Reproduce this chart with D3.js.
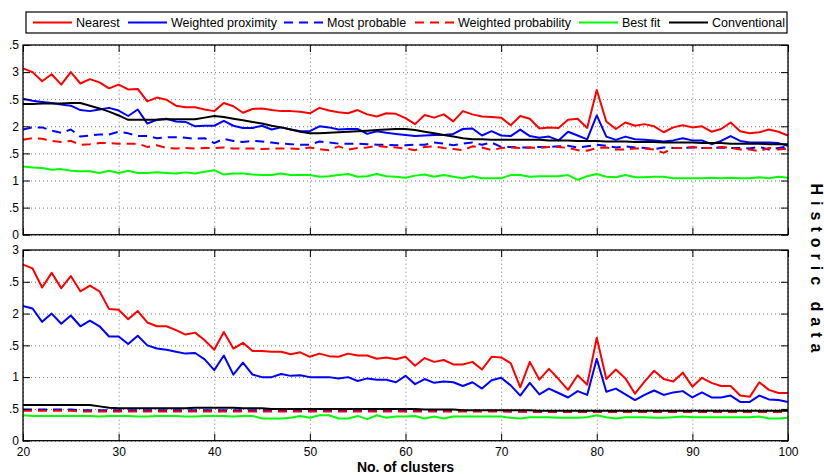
<!DOCTYPE html>
<html>
<head>
<meta charset="utf-8">
<script src="https://cdn.jsdelivr.net/npm/d3@7"></script>
<style>
  html, body { margin: 0; padding: 0; background: #fff; }
  svg { display: block; font-family: "Liberation Sans", Arial, Helvetica, sans-serif; }
</style>
</head>
<body>
<svg id="chart" width="824" height="475"></svg>
<script>
// ---------------- DATA ----------------
const clusters = d3.range(20, 101);           // No. of clusters: 20 .. 100
const xTicks = [20, 30, 40, 50, 60, 70, 80, 90, 100];
const xTickLabels = ["20", "30", "40", "50", "60", "70", "80", "90", "100"];

const topYTicks = [0, 0.5, 1, 1.5, 2, 2.5, 3, 3.5];
const topYTickLabels = ["0", ".5", "1", ".5", "2", ".5", "3", ".5"];
const botYTicks = [0, 0.5, 1, 1.5, 2, 2.5, 3];
const botYTickLabels = ["0", ".5", "1", ".5", "2", ".5", "3"];

const seriesNames = ["Nearest", "Weighted proximity", "Most probable",
                     "Weighted probability", "Best fit", "Conventional"];
const sideLabel = "Historic data";
const xLabel = "No. of clusters";

// ---- top panel ----
const nearestTop = [
  3.07, 3.00, 2.83, 2.96, 2.77, 3.00, 2.79, 2.87, 2.81, 2.70,
  2.77, 2.68, 2.69, 2.46, 2.53, 2.49, 2.38, 2.35, 2.35, 2.31,
  2.28, 2.43, 2.37, 2.25, 2.32, 2.33, 2.30, 2.28, 2.28, 2.27,
  2.24, 2.34, 2.29, 2.26, 2.24, 2.30, 2.22, 2.18, 2.24, 2.23,
  2.15, 2.04, 2.21, 2.16, 2.22, 2.09, 2.28, 2.22, 2.18, 2.17,
  2.16, 2.02, 2.19, 2.14, 1.96, 1.98, 1.97, 2.12, 2.14, 1.97,
  2.67, 2.09, 1.95, 2.07, 2.01, 2.04, 2.00, 1.89, 1.98, 2.02,
  1.98, 2.00, 1.90, 1.95, 2.07, 1.91, 1.87, 1.89, 1.94, 1.90,
  1.83];
const weightedProxTop = [
  2.51, 2.47, 2.45, 2.43, 2.40, 2.38, 2.30, 2.28, 2.31, 2.34,
  2.29, 2.19, 2.31, 2.05, 2.12, 2.14, 2.09, 2.08, 2.00, 2.01,
  2.01, 2.10, 2.01, 1.97, 1.97, 2.01, 1.94, 1.98, 1.94, 1.91,
  1.91, 2.00, 1.98, 1.94, 1.95, 1.95, 1.86, 1.91, 1.88, 1.86,
  1.84, 1.82, 1.83, 1.84, 1.84, 1.86, 1.95, 1.96, 1.83, 1.91,
  1.83, 1.82, 1.94, 1.82, 1.79, 1.81, 1.74, 1.90, 1.83, 1.76,
  2.20, 1.81, 1.75, 1.81, 1.76, 1.75, 1.74, 1.72, 1.74, 1.78,
  1.74, 1.74, 1.67, 1.73, 1.82, 1.73, 1.70, 1.70, 1.70, 1.69,
  1.64];
const mostProbTop = [
  1.94, 1.98, 1.98, 1.92, 1.88, 1.94, 1.81, 1.83, 1.85, 1.85,
  1.90, 1.87, 1.82, 1.82, 1.78, 1.80, 1.80, 1.79, 1.77, 1.78,
  1.69, 1.77, 1.73, 1.71, 1.73, 1.72, 1.70, 1.68, 1.67, 1.66,
  1.66, 1.72, 1.70, 1.68, 1.68, 1.68, 1.67, 1.66, 1.66, 1.65,
  1.65, 1.66, 1.66, 1.70, 1.68, 1.65, 1.68, 1.70, 1.66, 1.70,
  1.62, 1.62, 1.61, 1.61, 1.62, 1.62, 1.63, 1.64, 1.61, 1.63,
  1.66, 1.64, 1.61, 1.63, 1.61, 1.60, 1.58, 1.61, 1.60, 1.60,
  1.61, 1.60, 1.60, 1.61, 1.60, 1.60, 1.59, 1.62, 1.57, 1.60,
  1.63];
const weightedProbTop = [
  1.75, 1.78, 1.77, 1.73, 1.71, 1.73, 1.66, 1.67, 1.69, 1.69,
  1.68, 1.68, 1.68, 1.62, 1.65, 1.60, 1.59, 1.60, 1.59, 1.60,
  1.60, 1.61, 1.59, 1.59, 1.59, 1.58, 1.59, 1.59, 1.59, 1.58,
  1.61, 1.58, 1.56, 1.63, 1.57, 1.60, 1.61, 1.64, 1.62, 1.61,
  1.59, 1.56, 1.62, 1.63, 1.60, 1.58, 1.56, 1.63, 1.61, 1.56,
  1.60, 1.61, 1.60, 1.61, 1.60, 1.62, 1.62, 1.60, 1.56, 1.55,
  1.60, 1.61, 1.57, 1.57, 1.59, 1.59, 1.57, 1.51, 1.60, 1.60,
  1.62, 1.60, 1.60, 1.62, 1.60, 1.57, 1.57, 1.54, 1.60, 1.57,
  1.59];
const bestFitTop = [
  1.26, 1.24, 1.23, 1.20, 1.21, 1.18, 1.17, 1.17, 1.14, 1.18,
  1.14, 1.18, 1.14, 1.14, 1.15, 1.14, 1.13, 1.15, 1.13, 1.16,
  1.19, 1.11, 1.13, 1.13, 1.11, 1.10, 1.10, 1.13, 1.10, 1.10,
  1.10, 1.07, 1.08, 1.10, 1.12, 1.07, 1.08, 1.12, 1.08, 1.07,
  1.05, 1.09, 1.11, 1.07, 1.10, 1.07, 1.04, 1.08, 1.04, 1.04,
  1.04, 1.10, 1.10, 1.07, 1.08, 1.08, 1.08, 1.10, 1.01, 1.08,
  1.12, 1.07, 1.06, 1.10, 1.06, 1.06, 1.07, 1.07, 1.04, 1.04,
  1.04, 1.04, 1.05, 1.04, 1.05, 1.04, 1.04, 1.06, 1.04, 1.07,
  1.05];
const conventionalTop = [
  2.41, 2.41, 2.42, 2.42, 2.42, 2.43, 2.43, 2.38, 2.33, 2.27,
  2.20, 2.12, 2.12, 2.12, 2.12, 2.13, 2.13, 2.13, 2.13, 2.16,
  2.19, 2.17, 2.14, 2.11, 2.08, 2.05, 2.01, 1.98, 1.94, 1.90,
  1.87, 1.87, 1.88, 1.89, 1.90, 1.91, 1.92, 1.93, 1.94, 1.95,
  1.95, 1.93, 1.90, 1.87, 1.84, 1.81, 1.78, 1.76, 1.76, 1.75,
  1.75, 1.75, 1.75, 1.75, 1.75, 1.74, 1.74, 1.74, 1.73, 1.73,
  1.73, 1.72, 1.72, 1.72, 1.71, 1.71, 1.71, 1.70, 1.70, 1.70,
  1.70, 1.69, 1.69, 1.69, 1.68, 1.68, 1.68, 1.68, 1.67, 1.67,
  1.67];

// ---- bottom panel ----
const nearestBot = [
  2.77, 2.71, 2.41, 2.64, 2.40, 2.59, 2.35, 2.44, 2.35, 2.07,
  2.06, 1.91, 2.04, 1.86, 1.80, 1.80, 1.74, 1.67, 1.70, 1.58,
  1.43, 1.71, 1.45, 1.54, 1.41, 1.41, 1.40, 1.40, 1.36, 1.39,
  1.32, 1.37, 1.33, 1.32, 1.37, 1.34, 1.34, 1.29, 1.31, 1.28,
  1.32, 1.18, 1.30, 1.24, 1.27, 1.20, 1.20, 1.24, 1.12, 1.32,
  1.31, 1.22, 0.84, 1.24, 0.96, 1.13, 0.97, 0.80, 1.03, 0.88,
  1.62, 0.97, 1.12, 0.98, 0.74, 0.93, 1.10, 0.97, 0.93, 1.07,
  0.85, 0.99, 0.91, 0.86, 0.86, 0.71, 0.69, 0.92, 0.80, 0.75,
  0.75];
const weightedProxBot = [
  2.12, 2.08, 1.87, 2.00, 1.84, 1.97, 1.80, 1.89, 1.80, 1.64,
  1.64, 1.52, 1.65, 1.50, 1.45, 1.43, 1.40, 1.37, 1.38, 1.28,
  1.11, 1.34, 1.04, 1.23, 1.04, 1.00, 1.00, 1.05, 1.02, 1.03,
  1.00, 1.00, 1.00, 0.98, 1.00, 0.94, 0.98, 0.96, 0.96, 0.92,
  1.02, 0.89, 0.97, 0.91, 0.93, 0.92, 0.86, 0.92, 0.82, 0.95,
  0.99, 0.87, 0.71, 0.91, 0.73, 0.82, 0.75, 0.68, 0.78, 0.72,
  1.29, 0.77, 0.82, 0.73, 0.64, 0.72, 0.79, 0.72, 0.76, 0.78,
  0.68, 0.76, 0.68, 0.68, 0.71, 0.61, 0.61, 0.71, 0.65, 0.64,
  0.61];
const mostProbBot = [
  0.49, 0.49, 0.49, 0.49, 0.49, 0.49, 0.48, 0.48, 0.48, 0.48,
  0.48, 0.48, 0.48, 0.48, 0.48, 0.48, 0.48, 0.48, 0.48, 0.48,
  0.48, 0.48, 0.48, 0.48, 0.48, 0.48, 0.48, 0.47, 0.47, 0.47,
  0.47, 0.47, 0.47, 0.47, 0.47, 0.47, 0.47, 0.47, 0.47, 0.47,
  0.47, 0.47, 0.47, 0.47, 0.47, 0.47, 0.47, 0.47, 0.47, 0.47,
  0.47, 0.46, 0.46, 0.46, 0.46, 0.46, 0.46, 0.46, 0.46, 0.46,
  0.46, 0.46, 0.46, 0.46, 0.46, 0.46, 0.46, 0.46, 0.46, 0.46,
  0.46, 0.46, 0.46, 0.46, 0.46, 0.46, 0.46, 0.46, 0.46, 0.46,
  0.46];
const weightedProbBot = [
  0.47, 0.47, 0.47, 0.47, 0.47, 0.47, 0.46, 0.46, 0.46, 0.46,
  0.46, 0.46, 0.46, 0.46, 0.46, 0.46, 0.46, 0.46, 0.46, 0.46,
  0.46, 0.46, 0.46, 0.46, 0.46, 0.46, 0.46, 0.46, 0.46, 0.46,
  0.46, 0.46, 0.46, 0.46, 0.46, 0.46, 0.46, 0.46, 0.46, 0.46,
  0.46, 0.46, 0.46, 0.46, 0.46, 0.46, 0.46, 0.46, 0.46, 0.46,
  0.46, 0.46, 0.46, 0.45, 0.45, 0.45, 0.45, 0.45, 0.45, 0.45,
  0.45, 0.45, 0.45, 0.45, 0.45, 0.45, 0.45, 0.45, 0.45, 0.45,
  0.45, 0.45, 0.45, 0.45, 0.45, 0.45, 0.45, 0.45, 0.45, 0.45,
  0.45];
const bestFitBot = [
  0.40, 0.39, 0.39, 0.39, 0.39, 0.39, 0.39, 0.39, 0.38, 0.39,
  0.39, 0.39, 0.38, 0.38, 0.39, 0.39, 0.39, 0.38, 0.38, 0.39,
  0.39, 0.39, 0.38, 0.39, 0.39, 0.35, 0.35, 0.35, 0.36, 0.39,
  0.36, 0.40, 0.40, 0.35, 0.35, 0.39, 0.34, 0.40, 0.36, 0.38,
  0.38, 0.39, 0.35, 0.38, 0.35, 0.38, 0.38, 0.38, 0.38, 0.38,
  0.38, 0.36, 0.35, 0.37, 0.37, 0.37, 0.36, 0.36, 0.36, 0.37,
  0.40, 0.37, 0.35, 0.37, 0.37, 0.37, 0.36, 0.36, 0.37, 0.38,
  0.37, 0.37, 0.37, 0.37, 0.37, 0.37, 0.37, 0.38, 0.35, 0.35,
  0.36];
const conventionalBot = [
  0.56, 0.56, 0.56, 0.56, 0.56, 0.56, 0.56, 0.56, 0.54, 0.52,
  0.51, 0.51, 0.51, 0.51, 0.51, 0.51, 0.51, 0.51, 0.52, 0.52,
  0.52, 0.52, 0.52, 0.51, 0.51, 0.51, 0.50, 0.50, 0.50, 0.50,
  0.50, 0.50, 0.50, 0.50, 0.50, 0.50, 0.50, 0.50, 0.50, 0.50,
  0.50, 0.50, 0.49, 0.49, 0.49, 0.49, 0.48, 0.48, 0.48, 0.48,
  0.48, 0.48, 0.48, 0.48, 0.47, 0.47, 0.47, 0.47, 0.47, 0.47,
  0.47, 0.47, 0.47, 0.47, 0.47, 0.47, 0.47, 0.47, 0.47, 0.47,
  0.47, 0.47, 0.47, 0.47, 0.47, 0.47, 0.47, 0.47, 0.47, 0.47,
  0.47];

// ---------------- STYLE / LAYOUT ----------------
const colors = ["#ff0000", "#0000ff", "#0000ff", "#ff0000", "#00ff00", "#000000"];
const dashes = [null, null, "9,6", "9,6", null, null];

const svg = d3.select("#chart");
const L = 23, R = 788;
const x = d3.scaleLinear().domain([20, 100]).range([L, R]);

function drawPanel(top, bottom, yMax, yTicks, yLabels, showX, seriesValues) {
  const y = d3.scaleLinear().domain([0, yMax]).range([bottom, top]);
  const g = svg.append("g");

  // grid (dotted)
  g.append("g").attr("transform", `translate(0,${bottom})`)
    .call(d3.axisBottom(x).tickValues(xTicks).tickSize(-(bottom - top)).tickFormat(""))
    .call(s => s.select(".domain").remove())
    .call(s => s.selectAll("line").attr("stroke", "#777").attr("stroke-dasharray", "1,3"));
  g.append("g").attr("transform", `translate(${L},0)`)
    .call(d3.axisLeft(y).tickValues(yTicks).tickSize(-(R - L)).tickFormat(""))
    .call(s => s.select(".domain").remove())
    .call(s => s.selectAll("line").attr("stroke", "#777").attr("stroke-dasharray", "1,3"));

  // data lines
  const line = d3.line().x((d, i) => x(clusters[i])).y(d => y(d));
  seriesValues.forEach((vals, k) => {
    g.append("path").datum(vals)
      .attr("d", line)
      .attr("fill", "none")
      .attr("stroke", colors[k])
      .attr("stroke-width", 2)
      .attr("stroke-linejoin", "round")
      .attr("stroke-dasharray", dashes[k]);
  });

  // axes with inward ticks on all sides
  const fmtY = d => yLabels[yTicks.indexOf(d)];
  const axL = g.append("g").attr("transform", `translate(${L},0)`)
    .call(d3.axisLeft(y).tickValues(yTicks).tickSizeInner(-7).tickSizeOuter(0).tickPadding(4).tickFormat(fmtY));
  const axR = g.append("g").attr("transform", `translate(${R},0)`)
    .call(d3.axisRight(y).tickValues(yTicks).tickSizeInner(-7).tickSizeOuter(0).tickFormat(""));
  const axT = g.append("g").attr("transform", `translate(0,${top})`)
    .call(d3.axisTop(x).tickValues(xTicks).tickSizeInner(-7).tickSizeOuter(0).tickFormat(""));
  const axB = g.append("g").attr("transform", `translate(0,${bottom})`)
    .call(d3.axisBottom(x).tickValues(xTicks).tickSizeInner(-7).tickSizeOuter(0).tickPadding(7)
      .tickFormat(showX ? (d => xTickLabels[xTicks.indexOf(d)]) : ""));
  [axL, axR, axT, axB].forEach(a => {
    a.select(".domain").remove();
    a.selectAll("line").attr("stroke", "#000").attr("stroke-width", 1);
    a.selectAll("text").attr("fill", "#000").style("font-size", "12px")
      .style("font-family", '"Liberation Sans", Arial, sans-serif');
  });

  // frame
  g.append("rect").attr("x", L).attr("y", top).attr("width", R - L).attr("height", bottom - top)
    .attr("fill", "none").attr("stroke", "#000").attr("stroke-width", 1.3);
  return y;
}

drawPanel(45, 234.7, 3.5, topYTicks, topYTickLabels, false,
  [nearestTop, weightedProxTop, mostProbTop, weightedProbTop, bestFitTop, conventionalTop]);
drawPanel(250, 440.7, 3, botYTicks, botYTickLabels, true,
  [nearestBot, weightedProxBot, mostProbBot, weightedProbBot, bestFitBot, conventionalBot]);

// x-axis title
svg.append("text").attr("x", (L + R) / 2).attr("y", 472)
  .attr("text-anchor", "middle").style("font-size", "14px").style("font-weight", "bold")
  .text(xLabel);

// right side label
svg.append("text").attr("transform", "translate(816,271) rotate(90)")
  .attr("text-anchor", "middle").attr("dominant-baseline", "central")
  .style("font-size", "16px").style("font-weight", "bold").style("letter-spacing", "6px")
  .text(sideLabel);

// legend
const legend = svg.append("g");
legend.append("rect").attr("x", 26).attr("y", 12).attr("width", 761).attr("height", 21)
  .attr("fill", "#fff").attr("stroke", "#000").attr("stroke-width", 1.2);
const legendLineX = [33, 128, 284, 415, 579, 669];
seriesNames.forEach((name, k) => {
  const lx = legendLineX[k];
  legend.append("line").attr("x1", lx).attr("x2", lx + 39).attr("y1", 22.5).attr("y2", 22.5)
    .attr("stroke", colors[k]).attr("stroke-width", 2).attr("stroke-dasharray", dashes[k]);
  legend.append("text").attr("x", lx + 43).attr("y", 27)
    .style("font-size", "12.5px").text(name);
});
</script>
</body>
</html>
